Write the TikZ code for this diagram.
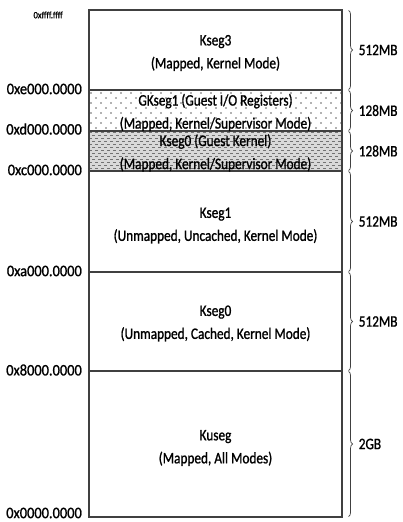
\documentclass[tikz,border=0pt]{standalone}
\usepackage{fontspec}
\setmainfont{Carlito}[FakeStretch=0.83, FakeBold=1.1]
\newfontfamily\addrfont{Carlito}[FakeStretch=0.9, FakeBold=1.1]
\usetikzlibrary{decorations.pathreplacing}
\definecolor{edge}{HTML}{404040}
\tikzset{
  seg/.style={draw=edge, line width=1.1pt, minimum width=253pt, inner sep=0pt},
  segtext/.style={align=center, inner sep=0pt, font=\fontsize{16}{23}\selectfont, text=black},
  addr/.style={anchor=east, font=\addrfont\fontsize{16}{18}\selectfont, text=black, inner sep=0pt},
  size/.style={anchor=west, font=\fontsize{16}{18}\selectfont, text=black, inner sep=0pt},
  brc/.style={draw=edge, line width=0.7pt, decorate, decoration={brace, amplitude=4pt}},
}
\begin{document}
\begin{tikzpicture}[x=1pt, y=-1pt]
\useasboundingbox (0,0) rectangle (402,522);
% background patterns
\begin{scope}
  \clip (89,90) rectangle (342,131);
  \foreach \r in {0,...,8} {
    \pgfmathsetmacro{\yy}{93+\r*5}
    \pgfmathsetmacro{\off}{mod(\r,2)*5}
    \foreach \c in {0,...,26} {
      \fill[black!60] (91+\off+\c*10, \yy) circle (0.8);
    }
  }
\end{scope}
\begin{scope}
  \clip (89,131) rectangle (342,171);
  \fill[gray!30] (89,131) rectangle (342,171);
  \foreach \r in {0,...,13} {
    \pgfmathsetmacro{\yy}{132.5+\r*3}
    \pgfmathsetmacro{\off}{mod(\r,2)*3}
    \foreach \c in {0,...,43} {
      \draw[black!55, line width=0.8pt] (89+\off+\c*6, \yy) -- ++(3,0);
    }
  }
\end{scope}
% segments
\node[seg, minimum height=80pt]  (k3)  at (215.5,50)    {};
\node[seg, minimum height=41pt]  (gk1) at (215.5,110.5) {};
\node[seg, minimum height=40pt]  (gk0) at (215.5,151)   {};
\node[seg, minimum height=101pt] (k1)  at (215.5,221.5) {};
\node[seg, minimum height=99pt]  (k0)  at (215.5,321.5) {};
\node[seg, minimum height=146pt] (ku)  at (215.5,444)   {};
% segment texts
\node[segtext] (t3)  at ([yshift=-3pt]k3.center)  {Kseg3\\(Mapped, Kernel Mode)};
\node[segtext] (tg1) at ([yshift=-2pt]gk1.center) {GKseg1 (Guest I/O Registers)\\(Mapped, Kernel/Supervisor Mode)};
\node[segtext] (tg0) at ([yshift=-2pt]gk0.center) {Kseg0 (Guest Kernel)\\(Mapped, Kernel/Supervisor Mode)};
\node[segtext] (t1)  at ([yshift=-4pt]k1.center)  {Kseg1\\(Unmapped, Uncached, Kernel Mode)};
\node[segtext] (t0)  at ([yshift=-2pt]k0.center)  {Kseg0\\(Unmapped, Cached, Kernel Mode)};
\node[segtext] (tu)  at ([yshift=-4pt]ku.center)  {Kuseg\\(Mapped, All Modes)};
% addresses
\node[addr, font=\addrfont\fontsize{9.5}{10}\selectfont] (a0) at (63,15) {0xffff.ffff};
\node[addr] (a1) at (82,89)  {0xe000.0000};
\node[addr] (a2) at (82,129) {0xd000.0000};
\node[addr] (a3) at (82,170) {0xc000.0000};
\node[addr] (a4) at (82,271) {0xa000.0000};
\node[addr] (a5) at (82,370) {0x8000.0000};
\node[addr] (a6) at (82,513) {0x0000.0000};
% braces and sizes
\foreach \n/\t in {k3/512MB, gk1/128MB, gk0/128MB, k1/512MB, k0/512MB, ku/2GB} {
  \draw[brc] ([xshift=6pt,yshift=-1pt]\n.north east) -- ([xshift=6pt,yshift=1pt]\n.south east);
  \node[size] (s\n) at ([xshift=16pt]\n.east) {\t};
}
\end{tikzpicture}
\end{document}
